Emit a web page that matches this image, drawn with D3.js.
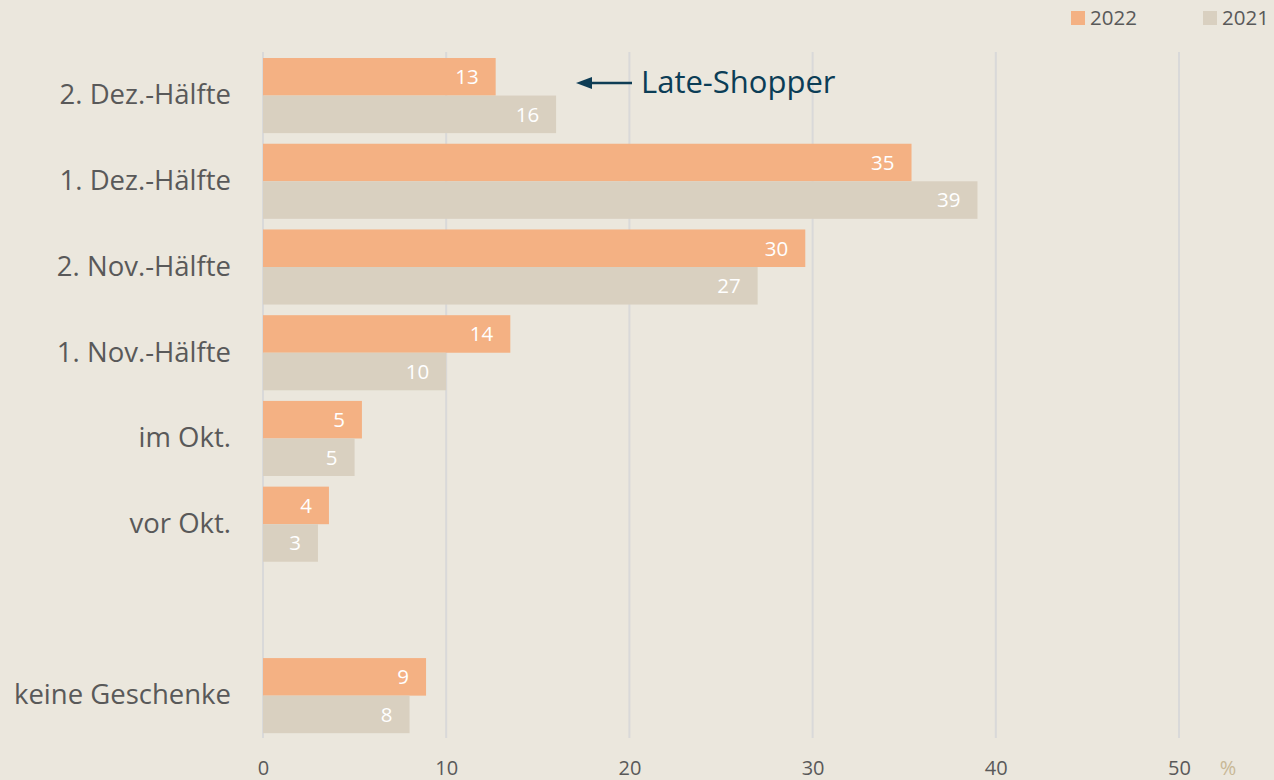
<!DOCTYPE html>
<html>
<head>
<meta charset="utf-8">
<script src="https://cdn.jsdelivr.net/npm/d3@7"></script>
<style>
  html, body { margin: 0; padding: 0; background: #EBE7DD; }
  svg { display: block; font-family: "Open Sans", "Noto Sans", sans-serif; }
</style>
</head>
<body>
<div class="chart"></div>
<script>
// categories top to bottom, "" is the empty gap row
const categories = ["2. Dez.-Hälfte", "1. Dez.-Hälfte", "2. Nov.-Hälfte", "1. Nov.-Hälfte", "im Okt.", "vor Okt.", "", "keine Geschenke"];
const series = ["2022", "2021"];
const values2022 = [12.7, 35.4, 29.6, 13.5, 5.4, 3.6, null, 8.9];
const values2021 = [16, 39, 27, 10, 5, 3, null, 8];
const xTicks = [0, 10, 20, 30, 40, 50];

const colors = { "2022": "#F4B183", "2021": "#D9D0C0" };

const width = 1274, height = 780;

const svg = d3.select(".chart")
    .append("svg")
    .attr("width", width)
    .attr("height", height);

svg.append("rect").attr("width", width).attr("height", height).attr("fill", "#EBE7DD");

const xScale = d3.scaleLinear().domain([0, 50]).range([263, 1179]);
const yScale = d3.scaleBand().domain(categories).range([52.7, 738.5]).paddingInner(0.124).paddingOuter(0.062);
const subScale = d3.scaleBand().domain(series).range([0, yScale.bandwidth()]);

// gridlines
svg.append("g")
    .selectAll("line")
    .data(xTicks)
    .enter()
    .append("line")
    .attr("x1", d => xScale(d))
    .attr("x2", d => xScale(d))
    .attr("y1", 52)
    .attr("y2", 738)
    .attr("stroke", "#D9D9D9")
    .attr("stroke-width", 2);

// x axis labels
const xAxis = d3.axisBottom(xScale).tickValues(xTicks).tickSize(0).tickPadding(0);
const xg = svg.append("g")
    .attr("transform", "translate(0, 775)")
    .call(xAxis);
xg.select(".domain").remove();
xg.selectAll("text")
    .attr("font-size", 20)
    .attr("font-family", "Open Sans")
    .attr("fill", "#595959")
    .attr("dy", "0");

svg.append("text")
    .attr("x", 1228)
    .attr("y", 775)
    .attr("text-anchor", "middle")
    .attr("font-size", 20)
    .attr("fill", "#C8B896")
    .text("%");

// category labels
const yAxis = d3.axisLeft(yScale).tickSize(0).tickPadding(0);
const yg = svg.append("g")
    .attr("transform", "translate(231, 0)")
    .call(yAxis);
yg.select(".domain").remove();
yg.selectAll("text")
    .attr("font-size", 27.5)
    .attr("font-family", "Open Sans")
    .attr("fill", "#595959");

// bars
const rows = categories.map((c, i) => ({ cat: c, vals: [
    { s: "2022", v: values2022[i] },
    { s: "2021", v: values2021[i] }
] }));

const groups = svg.append("g")
    .selectAll("g")
    .data(rows.filter(r => r.cat !== ""))
    .enter()
    .append("g")
    .attr("transform", d => `translate(0, ${yScale(d.cat)})`);

groups.selectAll("rect")
    .data(d => d.vals)
    .enter()
    .append("rect")
    .attr("x", xScale(0))
    .attr("y", d => subScale(d.s))
    .attr("width", d => xScale(d.v) - xScale(0))
    .attr("height", subScale.bandwidth())
    .attr("fill", d => colors[d.s]);

groups.selectAll("text")
    .data(d => d.vals)
    .enter()
    .append("text")
    .attr("x", d => xScale(d.v) - 17)
    .attr("y", d => subScale(d.s) + subScale.bandwidth() / 2)
    .attr("dy", "0.36em")
    .attr("text-anchor", "end")
    .attr("font-size", 20.5)
    .attr("fill", "#FFFFFF")
    .text(d => Math.round(d.v));

// legend
const legendX = [1071, 1203];
series.forEach((s, i) => {
    svg.append("rect")
        .attr("x", legendX[i])
        .attr("y", 11)
        .attr("width", 14)
        .attr("height", 14)
        .attr("fill", colors[s]);
    svg.append("text")
        .attr("x", legendX[i] + 19)
        .attr("y", 25)
        .attr("font-size", 20.5)
        .attr("fill", "#595959")
        .text(s);
});

// annotation
svg.append("line")
    .attr("x1", 588)
    .attr("x2", 632)
    .attr("y1", 83)
    .attr("y2", 83)
    .attr("stroke", "#0E3D55")
    .attr("stroke-width", 2.5);
svg.append("path")
    .attr("d", "M576,83 L592,77 L592,89 Z")
    .attr("fill", "#0E3D55");

svg.append("text")
    .attr("x", 641)
    .attr("y", 93)
    .attr("font-size", 31)
    .attr("fill", "#0B3D56")
    .text("Late-Shopper");
</script>
</body>
</html>
